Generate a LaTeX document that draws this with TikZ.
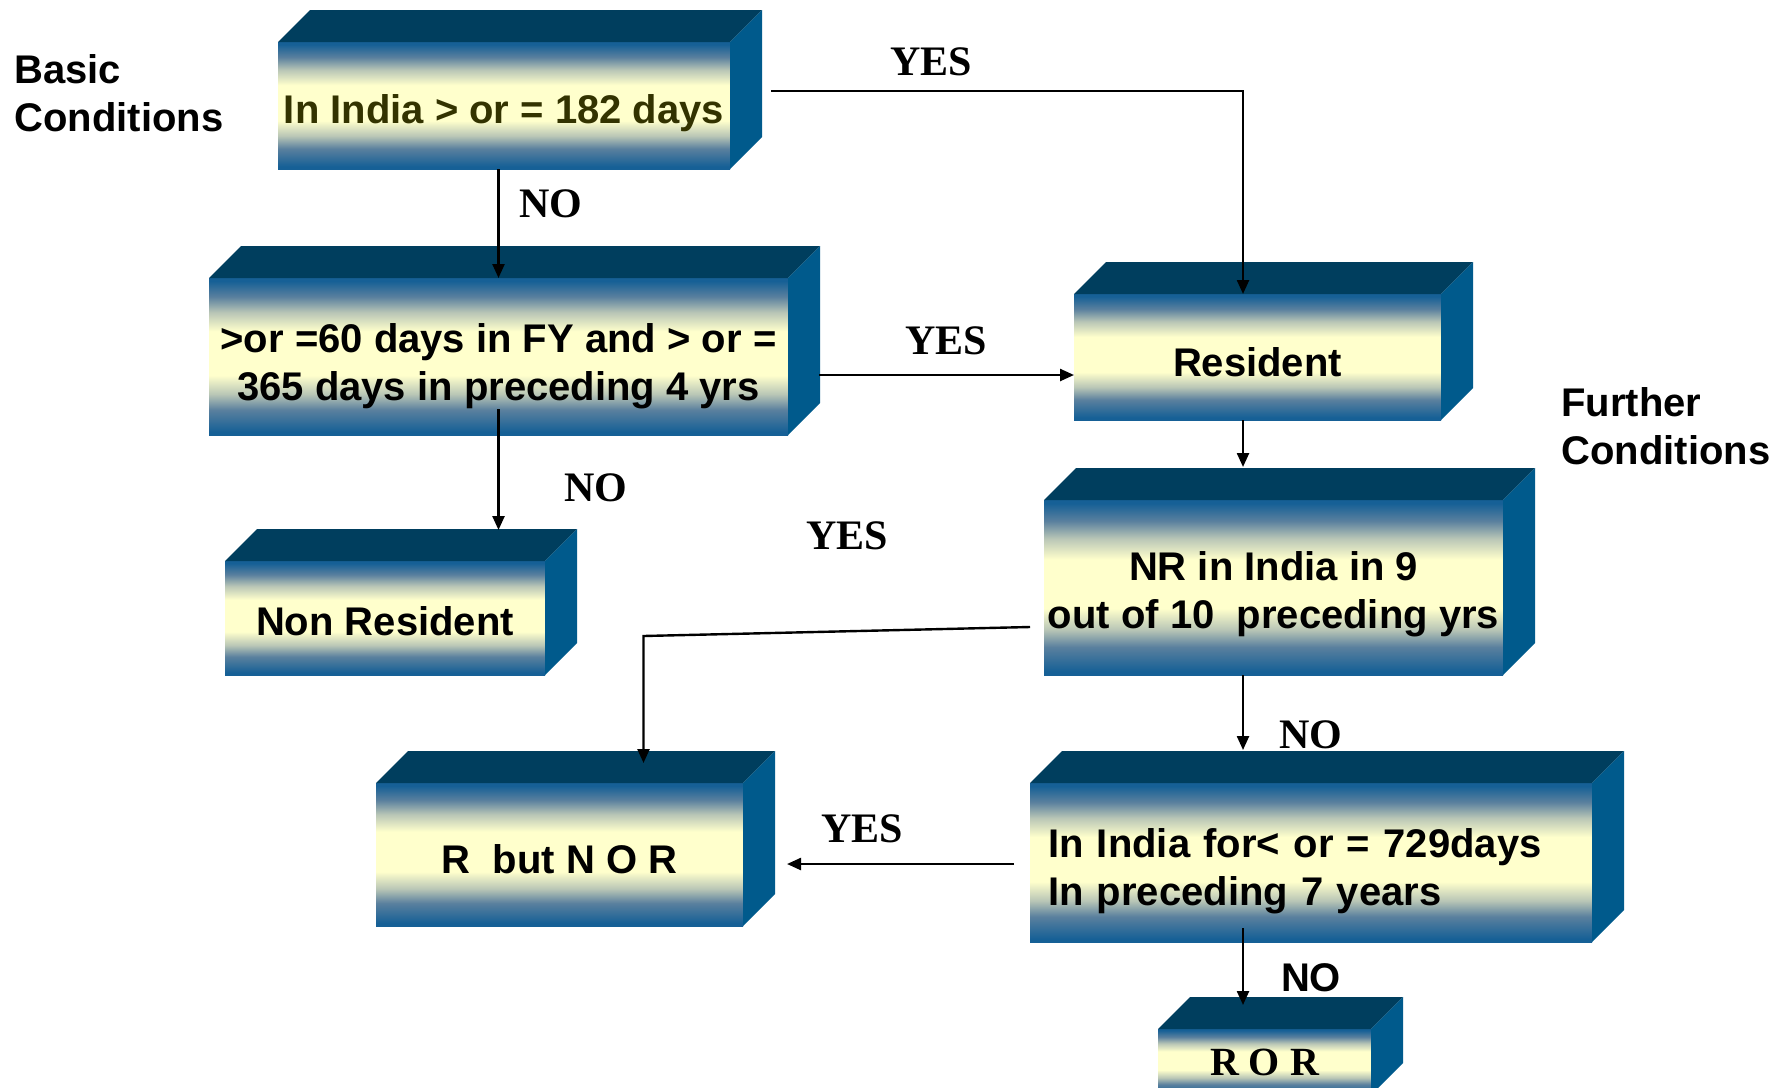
\documentclass[tikz,border=0pt]{standalone}
\usepackage{fontspec}
\setmainfont{Liberation Serif}
\setsansfont{Liberation Sans}
\usetikzlibrary{arrows.meta}
\definecolor{topc}{RGB}{0,62,94}
\definecolor{sidec}{RGB}{0,90,140}
\definecolor{edgeb}{RGB}{22,96,150}
\definecolor{midone}{RGB}{90,128,158}
\definecolor{midtwo}{RGB}{185,198,182}
\definecolor{paley}{RGB}{255,255,204}
\definecolor{olivetxt}{RGB}{51,51,0}
\pgfdeclareverticalshading{boxshade}{100bp}{color(0bp)=(edgeb); color(26bp)=(edgeb); color(33bp)=(midone); color(38bp)=(midtwo); color(44bp)=(paley); color(58bp)=(paley); color(64bp)=(midtwo); color(69bp)=(midone); color(74bp)=(edgeb); color(100bp)=(edgeb)}
\newcommand\drawfaces[1]{%
  \fill[topc] (#1.north west) -- ++(32,-32) -- ([shift={(32,-32)}]#1.north east) -- (#1.north east) -- cycle;
  \fill[sidec] (#1.north east) -- ++(32,-32) -- ([shift={(32,-32)}]#1.south east) -- (#1.south east) -- cycle;}
\newcommand\lowr[1]{\rule{0pt}{#1}}
\begin{document}
\begin{tikzpicture}[x=0.5pt,y=-0.5pt,
  box/.style={shading=boxshade, inner sep=0pt, outer sep=0pt, font=\sffamily\bfseries\fontsize{20}{24}\selectfont, align=center},
  arr/.style={line width=1.2pt, -{Triangle[length=7pt,width=6pt]}},
  yn/.style={font=\rmfamily\bfseries\fontsize{21}{24}\selectfont, inner sep=0pt},
  cond/.style={font=\sffamily\bfseries\fontsize{20}{24}\selectfont, align=left, anchor=west, inner sep=0pt}]

\useasboundingbox[fill=white] (0,0) rectangle (1781,1087);

% boxes
\node[box, minimum width=226pt, minimum height=63.5pt, text=olivetxt] (b1) at (504,105.5) {\lowr{22.6pt}In India > or = 182 days};
\node[box, minimum width=289.5pt, minimum height=78.5pt] (b2) at (498.5,356.5) {\lowr{24.6pt}>or =60 days in FY and > or =\\365 days in preceding 4 yrs};
\node[box, minimum width=183.5pt, minimum height=63pt] (b3) at (1257.5,357) {\lowr{19.2pt}Resident};
\node[box, minimum width=160pt, minimum height=57pt] (b4) at (385,618) {\lowr{18pt}Non Resident};
\node[box, minimum width=229.5pt, minimum height=87.5pt] (b5) at (1273.5,587.5) {\lowr{21.6pt}NR in India in 9\\out of 10\ \ preceding yrs};
\node[box, minimum width=183.5pt, minimum height=71.5pt] (b6) at (559.5,854.5) {\lowr{19.2pt}R\ \ but N O R};
\node[box, minimum width=281pt, minimum height=79.5pt, text width=263pt, align=left, inner xsep=9pt] (b7) at (1311,862.5) {\lowr{23.6pt}In India for< or = 729days\\In preceding 7 years};
\node[box, minimum width=106.5pt, minimum height=33pt, font=\rmfamily\bfseries\fontsize{20}{24}\selectfont] (b8) at (1264.5,1062) {R O R};

\drawfaces{b1}
\drawfaces{b2}
\drawfaces{b3}
\drawfaces{b4}
\drawfaces{b5}
\drawfaces{b6}
\drawfaces{b7}
\drawfaces{b8}

% side captions
\node[cond] (basic) at (14,93) {Basic\\Conditions};
\node[cond] (further) at (1561,426) {Further\\Conditions};

% connectors
\draw[arr] ([shift={(41,-14.5)}]b1.east) -| ([shift={(-14.5,0)}]b3.north);
\draw[arr] (b2.north |- b1.south) -- (b2.north);
\draw[arr] ([shift={(31,18.5)}]b2.east) -- ([shift={(0,18)}]b3.west);
\draw[arr] ([shift={(0,-26)}]b2.south) -- ([shift={(113.5,-31)}]b4.north);
\draw[arr] ([shift={(-14.5,0)}]b3.south) -- ([shift={(-30.5,-33)}]b5.north);
\draw[arr] ([shift={(-14,39.5)}]b5.west) -- ([shift={(84,-147)}]b6.north) -- ([shift={(84,-20)}]b6.north);
\draw[arr] ([shift={(-30.5,0)}]b5.south) -- ([shift={(-68,-33)}]b7.north);
\draw[arr] ([shift={(-16,1.5)}]b7.west) -- ([shift={(44,9.5)}]b6.east);
\draw[arr] ([shift={(-68,-14)}]b7.south) -- ([shift={(-21.5,-24)}]b8.north);

% labels
\node[yn] (yes1) at (931,62) {YES};
\node[yn] (no1) at (551,204) {NO};
\node[yn] (yes2) at (946,341) {YES};
\node[yn] (no2) at (596,488) {NO};
\node[yn] (yes3) at (847,536) {YES};
\node[yn] (no3) at (1311,735) {NO};
\node[yn] (yes4) at (862,829) {YES};
\node[inner sep=0pt, font=\sffamily\bfseries\fontsize{20}{24}\selectfont] (no4) at (1311,978) {NO};
\end{tikzpicture}
\end{document}
